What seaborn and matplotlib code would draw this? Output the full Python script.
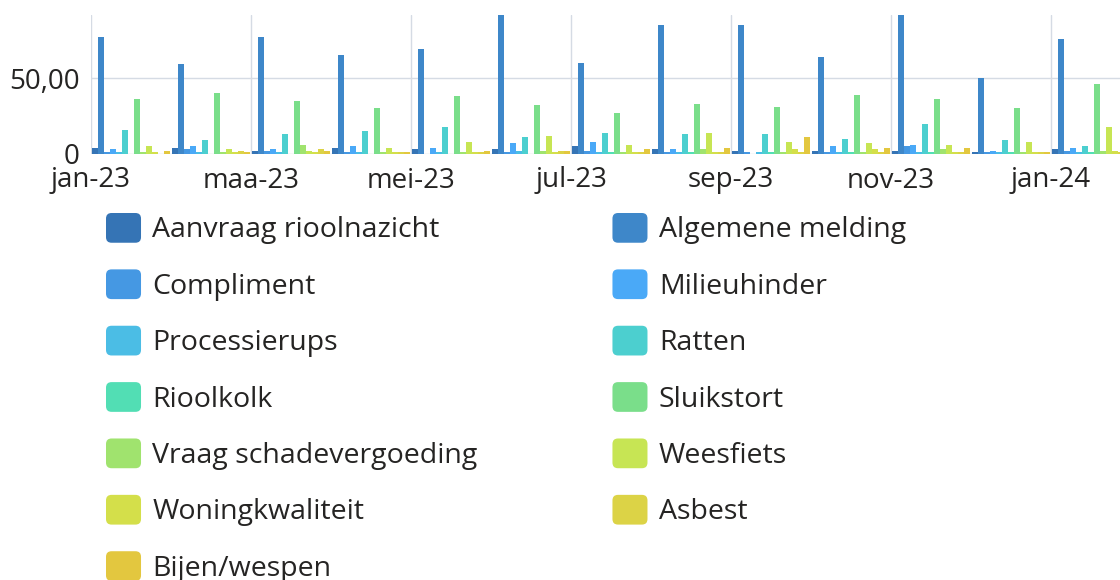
import numpy as np
import pandas as pd
import matplotlib
matplotlib.use("Agg")
import matplotlib.pyplot as plt
from matplotlib.patches import Rectangle, FancyBboxPatch
from matplotlib.legend_handler import HandlerPatch
import seaborn as sns

# Months (Dutch short names) and the series in legend order.
months = ["jan-23", "feb-23", "maa-23", "apr-23", "mei-23", "jun-23", "jul-23",
          "aug-23", "sep-23", "okt-23", "nov-23", "dec-23", "jan-24"]

series = ["Aanvraag rioolnazicht", "Algemene melding", "Compliment", "Milieuhinder",
          "Processierups", "Ratten", "Rioolkolk", "Sluikstort",
          "Vraag schadevergoeding", "Weesfiets", "Woningkwaliteit", "Asbest",
          "Bijen/wespen"]

colors = ["#3574b5", "#3e87c9", "#4598e3", "#4aa9f7", "#4bbde5", "#4ccfcf",
          "#52deb4", "#7ade8a", "#a0e36e", "#c7e554", "#d4df4a", "#dcd346",
          "#e3c73f"]

# Values per series, jan-23 .. jan-24.
aanvraag_rioolnazicht = [4, 4, 2, 4, 3, 3, 5, 3, 2, 2, 2, 1, 3]
algemene_melding = [77, 59, 77, 65, 69, 95, 60, 85, 85, 64, 95, 50, 76]
compliment = [1, 3, 2, 1, 0, 1, 2, 1, 1, 1, 5, 1, 2]
milieuhinder = [3, 5, 3, 5, 4, 7, 8, 3, 0, 5, 6, 2, 4]
processierups = [1, 1, 1, 1, 1, 2, 1, 1, 1, 1, 1, 1, 1]
ratten = [16, 9, 13, 15, 18, 11, 14, 13, 13, 10, 20, 9, 5]
rioolkolk = [0, 0, 0, 0, 0, 0, 1, 1, 1, 1, 1, 1, 1]
sluikstort = [36, 40, 35, 30, 38, 32, 27, 33, 31, 39, 36, 30, 46]
vraag_schadevergoeding = [1, 1, 6, 1, 1, 2, 1, 3, 1, 1, 3, 1, 2]
weesfiets = [5, 3, 2, 4, 8, 12, 6, 14, 8, 7, 6, 8, 18]
woningkwaliteit = [1, 1, 1, 1, 1, 1, 1, 1, 3, 3, 1, 1, 2]
asbest = [0, 2, 3, 1, 1, 2, 1, 1, 1, 1, 1, 1, 1]
bijen_wespen = [2, 1, 2, 1, 2, 2, 3, 4, 11, 4, 4, 1, 1]

values = [aanvraag_rioolnazicht, algemene_melding, compliment, milieuhinder,
          processierups, ratten, rioolkolk, sluikstort, vraag_schadevergoeding,
          weesfiets, woningkwaliteit, asbest, bijen_wespen]

y_ticks = [0, 50]
y_tick_labels = ["0", "50,00"]

# Long-form table for seaborn.
rows = []
for name, vals in zip(series, values):
    for m, v in zip(months, vals):
        rows.append({"maand": m, "categorie": name, "aantal": v})
df = pd.DataFrame(rows)

sns.set_theme(style="white")
plt.rcParams["font.family"] = ["Open Sans", "DejaVu Sans"]
text_color = "#252423"
grid_color = "#d5dbe4"
fs = 20
leg_fs = 20.5

W, H = 1120, 580
fig = plt.figure(figsize=(W / 100, H / 100), dpi=100)
ax = fig.add_axes([91 / W, 1 - 154 / H, (W - 91) / W, (154 - 15) / H])

sns.barplot(data=df, x="maand", y="aantal", hue="categorie", order=months,
            hue_order=series, palette=colors, width=0.975, gap=0,
            saturation=1, linewidth=0, legend=False, ax=ax, zorder=3)

ax.set_xlim(-0.5, -0.5 + (W - 91) / 80)
ax.set_ylim(0, 91.6)

ax.set_xticks([i - 0.5 for i in range(0, len(months), 2)])
ax.set_xticklabels(months[::2])
ax.set_yticks(y_ticks)
ax.set_yticklabels(y_tick_labels)
ax.tick_params(axis="both", length=0, labelsize=fs, colors=text_color)
ax.tick_params(axis="y", pad=8)
ax.tick_params(axis="x", pad=9)
ax.set_xlabel("")
ax.set_ylabel("")
for s in ax.spines.values():
    s.set_visible(False)
ax.grid(True, axis="both", color=grid_color, linewidth=1, zorder=0)
ax.set_axisbelow(True)


class RoundedSwatch(HandlerPatch):
    def create_artists(self, legend, orig_handle, xdescent, ydescent,
                       width, height, fontsize, trans):
        p = FancyBboxPatch((-xdescent, -ydescent), width, height,
                           boxstyle="round,pad=0,rounding_size=4",
                           facecolor=orig_handle.get_facecolor(),
                           edgecolor="none", transform=trans)
        return [p]


# Reorder so a two-column (column-major) legend reads row by row.
order = list(range(0, len(series), 2)) + list(range(1, len(series), 2))
handles = [Rectangle((0, 0), 1, 1, facecolor=colors[i]) for i in order]
labels = [series[i] for i in order]

leg = fig.legend(handles, labels, ncol=2, loc="upper left",
                 bbox_to_anchor=(106 / W, 1 - 213 / H), frameon=False,
                 fontsize=leg_fs, handlelength=1.23, handleheight=1.23,
                 handletextpad=0.4, labelspacing=0.875, columnspacing=4.73,
                 borderpad=0, borderaxespad=0,
                 handler_map={Rectangle: RoundedSwatch()})
for t in leg.get_texts():
    t.set_color(text_color)

fig.savefig("out.png", dpi=100)
